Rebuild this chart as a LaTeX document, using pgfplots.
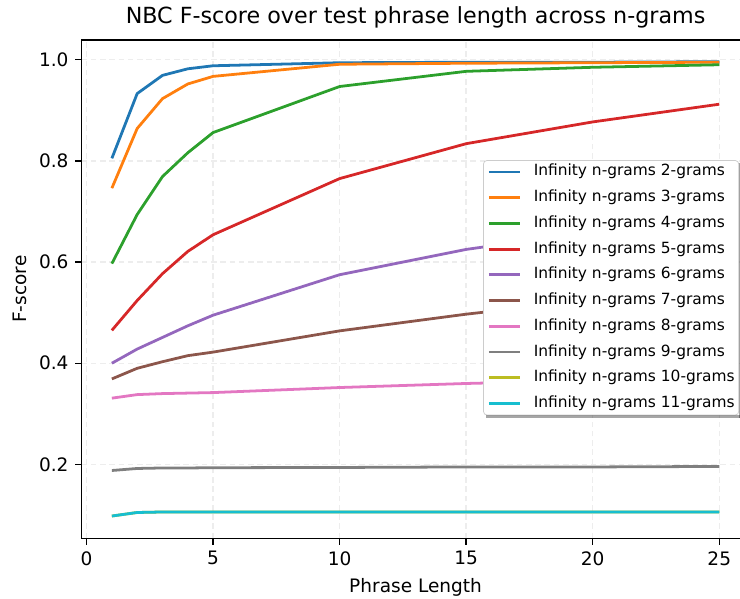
\documentclass[border=0pt]{standalone}
\usepackage{fontspec}
\setmainfont{DejaVu Sans}
\usepackage{pgfplots}
\pgfplotsset{compat=1.18}
\usepackage{pgfplotstable}
\definecolor{c0}{HTML}{1F77B4}
\definecolor{c1}{HTML}{FF7F0E}
\definecolor{c2}{HTML}{2CA02C}
\definecolor{c3}{HTML}{D62728}
\definecolor{c4}{HTML}{9467BD}
\definecolor{c5}{HTML}{8C564B}
\definecolor{c6}{HTML}{E377C2}
\definecolor{c7}{HTML}{7F7F7F}
\definecolor{c8}{HTML}{BCBD22}
\definecolor{c9}{HTML}{17BECF}

\pgfplotstableread{
x  g2    g3    g4    g5    g6    g7    g8    g9     g10   g11
1  0.805 0.746 0.597 0.465 0.400 0.369 0.331 0.188  0.098 0.098
2  0.933 0.864 0.694 0.524 0.428 0.390 0.338 0.192  0.105 0.105
3  0.969 0.923 0.769 0.577 0.451 0.403 0.340 0.193  0.106 0.106
4  0.982 0.952 0.816 0.621 0.474 0.415 0.341 0.193  0.106 0.106
5  0.988 0.967 0.856 0.654 0.495 0.422 0.342 0.1935 0.106 0.106
10 0.994 0.991 0.947 0.765 0.575 0.464 0.352 0.194  0.106 0.106
15 0.995 0.993 0.977 0.834 0.625 0.497 0.360 0.195  0.106 0.106
20 0.995 0.994 0.985 0.877 0.660 0.525 0.366 0.195  0.106 0.106
25 0.996 0.995 0.990 0.912 0.690 0.550 0.372 0.196  0.106 0.106
}\data

\begin{document}
\begin{tikzpicture}
\begin{axis}[
  at={(0,0)}, anchor=south west,
  scale only axis, width=360.8pt, height=269.1pt,
  xmin=-0.2, xmax=26.2, ymin=0.054, ymax=1.039,
  xtick={0,5,10,15,20,25},
  ytick={0.2,0.4,0.6,0.8,1.0},
  yticklabel style={/pgf/number format/.cd, fixed, fixed zerofill, precision=1},
  /pgf/number format/assume math mode=true,
  tick label style={font=\fontsize{10}{12}\selectfont, text=black},
  label style={font=\fontsize{10}{12}\selectfont},
  title style={font=\fontsize{12}{14}\selectfont, at={(0.5,1)}, anchor=base, yshift=3pt},
  title={NBC F-score over test phrase length across n-grams},
  xlabel={Phrase Length}, ylabel={F-score},
  tick align=outside, tick pos=left, major tick length=3.5pt,
  major tick style={line width=0.8pt, black},
  axis line style={line width=0.8pt, black},
  grid=major, major grid style={line width=0.8pt, black!7, densely dashed},
  legend cell align=left,
  legend image code/.code={\draw[#1] (0pt,0pt) -- (16.7pt,0pt);},
  legend style={name=L, at={(0.601,0.759)}, anchor=north west,
    font=\fontsize{8.33}{10}\selectfont,
    draw=black!20, fill=white, rounded corners=2pt, inner sep=2.2pt,
    nodes={inner sep=0pt, text height=6.2pt, text depth=1.8pt},
    /tikz/every odd column/.append style={column sep=6.8pt},
    row sep=5.9pt},
  every axis plot/.append style={line width=1.5pt, line join=round},
]
\addplot[c0] table[x=x,y=g2]{\data};
\addlegendentry{Infinity n-grams 2-grams}
\addplot[c1] table[x=x,y=g3]{\data};
\addlegendentry{Infinity n-grams 3-grams}
\addplot[c2] table[x=x,y=g4]{\data};
\addlegendentry{Infinity n-grams 4-grams}
\addplot[c3] table[x=x,y=g5]{\data};
\addlegendentry{Infinity n-grams 5-grams}
\addplot[c4] table[x=x,y=g6]{\data};
\addlegendentry{Infinity n-grams 6-grams}
\addplot[c5] table[x=x,y=g7]{\data};
\addlegendentry{Infinity n-grams 7-grams}
\addplot[c6] table[x=x,y=g8]{\data};
\addlegendentry{Infinity n-grams 8-grams}
\addplot[c7] table[x=x,y=g9]{\data};
\addlegendentry{Infinity n-grams 9-grams}
\addplot[c8] table[x=x,y=g10]{\data};
\addlegendentry{Infinity n-grams 10-grams}
\addplot[c9] table[x=x,y=g11]{\data};
\addlegendentry{Infinity n-grams 11-grams}
\end{axis}
\fill[black, opacity=0.35]
  ([shift={(1.5pt,-1.5pt)}]L.south west) rectangle ([shift={(1.5pt,0pt)}]L.south east);
\fill[black, opacity=0.35]
  ([shift={(0pt,-1.5pt)}]L.north east) rectangle ([shift={(1.5pt,-1.5pt)}]L.south east);
\pgfresetboundingbox
\path[use as bounding box] (-44.01pt,-32.78pt) rectangle (355.59pt,290.68pt);
\end{tikzpicture}
\end{document}
